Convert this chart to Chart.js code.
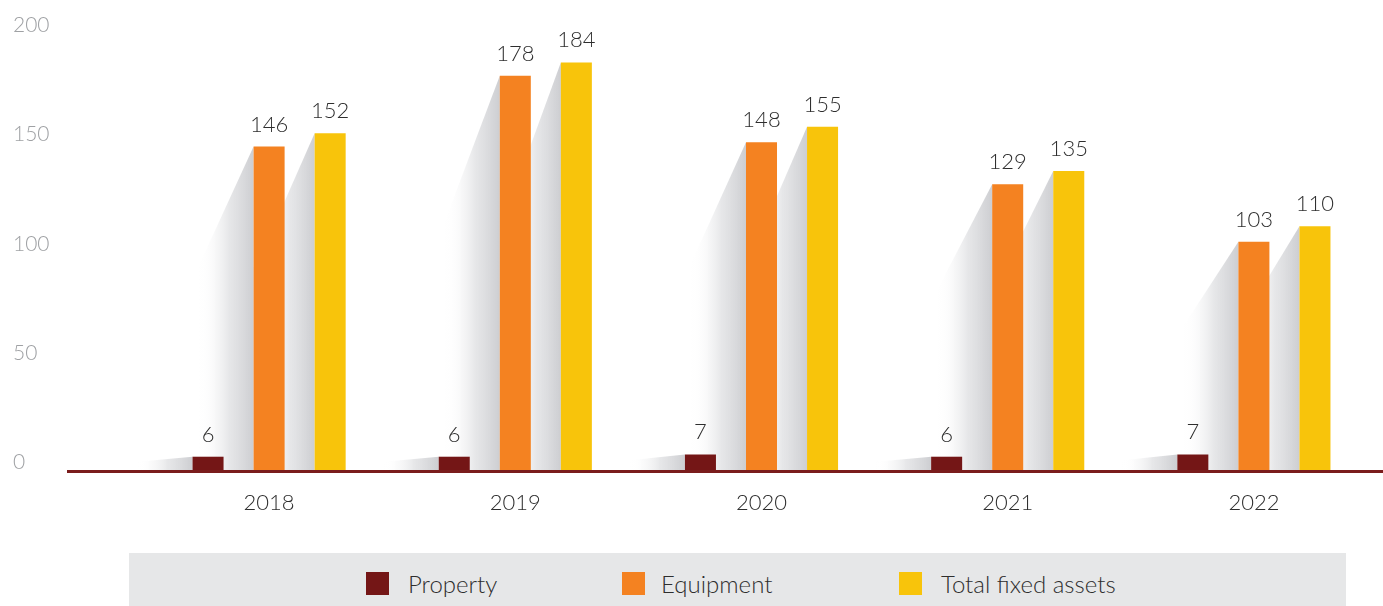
<!DOCTYPE html>
<html>
<head>
<meta charset="utf-8">
<script src="https://cdn.jsdelivr.net/npm/chart.js@4.4.1/dist/chart.umd.min.js"></script>
<style>
html,body{margin:0;padding:0;background:#fff;}
#wrap{position:relative;width:1383px;height:606px;overflow:hidden;}
#c{position:absolute;left:0;top:0;}
#legend{position:absolute;left:129px;top:553px;width:1217px;height:53px;background:#e6e7e8;font-family:Lato,"Noto Sans",sans-serif;font-weight:300;font-size:24px;color:#2e2e2e;}
.sw{position:absolute;top:19px;width:23px;height:23px;}
.lt{position:absolute;top:16px;white-space:nowrap;line-height:normal;}
</style>
</head>
<body>
<div id="wrap">
<canvas id="c" width="1383" height="606"></canvas>
<div id="legend"></div>
</div>
<script>
// ---- data ----
const categories = ['2018', '2019', '2020', '2021', '2022'];
const property = [6, 6, 7, 6, 7];
const equipment = [146, 178, 148, 129, 103];
const totalFixedAssets = [152, 184, 155, 135, 110];
const yTickValues = [0, 50, 100, 150, 200];
const seriesNames = ['Property', 'Equipment', 'Total fixed assets'];
const seriesColors = ['#741616', '#f48221', '#f8c40b'];

const FONT = 'Lato, "Noto Sans", sans-serif';

// bar shadows (drawn behind bars)
const shadowPlugin = {
  id: 'barShadows',
  beforeDatasetsDraw(chart) {
    const ctx = chart.ctx;
    ctx.save();
    chart.data.datasets.forEach((ds, i) => {
      const meta = chart.getDatasetMeta(i);
      meta.data.forEach(el => {
        const left = el.x - el.width / 2;
        const top = el.y, base = el.base;
        const W = 55;
        const drop = 0.37 * (base - top);
        const g = ctx.createLinearGradient(left, 0, left - W, 0);
        g.addColorStop(0, 'rgba(196,197,201,0.85)');
        g.addColorStop(0.45, 'rgba(214,215,218,0.6)');
        g.addColorStop(1, 'rgba(255,255,255,0)');
        ctx.fillStyle = g;
        ctx.beginPath();
        ctx.moveTo(left, top);
        ctx.lineTo(left - W, top + drop);
        ctx.lineTo(left - W, base);
        ctx.lineTo(left, base);
        ctx.closePath();
        ctx.fill();
      });
    });
    ctx.restore();
  }
};

// axis line + value labels
const overlayPlugin = {
  id: 'overlay',
  afterDatasetsDraw(chart) {
    const ctx = chart.ctx;
    const y0 = chart.scales.y.getPixelForValue(0);
    ctx.save();
    ctx.fillStyle = '#7a1c1c';
    ctx.fillRect(67, Math.round(y0), chart.width - 67, 3);
    ctx.fillStyle = '#2e2e2e';
    ctx.font = '300 22px ' + FONT;
    ctx.textAlign = 'center';
    ctx.textBaseline = 'alphabetic';
    chart.data.datasets.forEach((ds, i) => {
      const meta = chart.getDatasetMeta(i);
      meta.data.forEach((el, j) => {
        ctx.fillText(String(ds.data[j]), el.x, el.y - 15);
      });
    });
    ctx.restore();
  }
};

const seriesData = [property, equipment, totalFixedAssets];
const datasets = seriesData.map((d, i) => ({
  label: seriesNames[i],
  data: d,
  backgroundColor: seriesColors[i],
  borderWidth: 0,
  categoryPercentage: 0.744,
  barPercentage: 0.508,
  xAxisID: 'x',
  yAxisID: 'y'
}));

new Chart(document.getElementById('c'), {
  type: 'bar',
  data: { labels: categories, datasets },
  options: {
    responsive: false,
    animation: false,
    devicePixelRatio: 1,
    layout: { padding: { left: 13, right: 6, top: 27, bottom: 0 } },
    plugins: { legend: { display: false }, tooltip: { enabled: false } },
    scales: {
      x: {
        type: 'category',
        position: 'bottom',
        grid: { display: false },
        border: { display: false },
        ticks: { color: '#2e2e2e', font: { family: FONT, size: 22, weight: '300' }, padding: 12, maxRotation: 0 },
        afterFit(s) { s.height = 136; }
      },
      y: {
        display: false,
        min: 0,
        max: 200
      },
      yl: {
        position: 'left',
        min: -3.43,
        max: 199.09,
        grid: { display: false },
        border: { display: false },
        ticks: { color: '#9fa1a4', font: { family: FONT, size: 21, weight: '300' }, crossAlign: 'far', padding: 0 },
        afterBuildTicks(s) { s.ticks = yTickValues.map(v => ({ value: v })); },
        afterFit(s) { s.width = 133; }
      }
    }
  },
  plugins: [shadowPlugin, overlayPlugin]
});

// legend (HTML)
const legendEl = document.getElementById('legend');
const legendX = [237, 493, 770];
seriesNames.forEach((name, i) => {
  const sw = document.createElement('div');
  sw.className = 'sw';
  sw.style.left = legendX[i] + 'px';
  sw.style.background = seriesColors[i];
  legendEl.appendChild(sw);
  const t = document.createElement('div');
  t.className = 'lt';
  t.style.left = (legendX[i] + 42 - (i === 1 ? 3 : 0)) + 'px';
  t.textContent = name;
  legendEl.appendChild(t);
});
</script>
</body>
</html>
